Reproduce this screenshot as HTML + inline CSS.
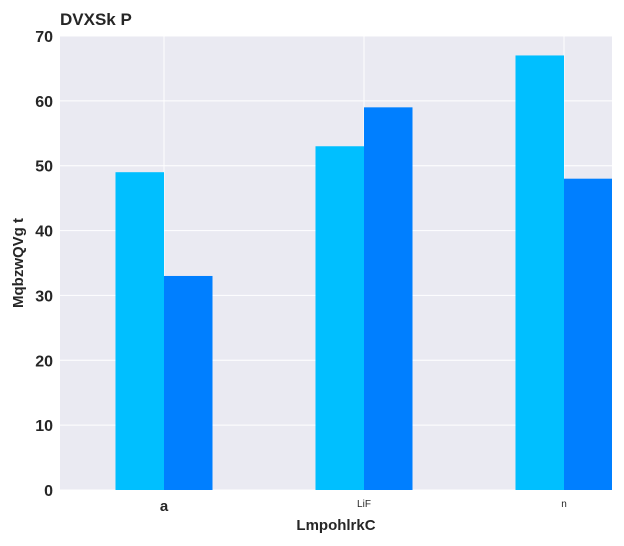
<!DOCTYPE html>
<html><head><meta charset="utf-8"><style>
body{margin:0;background:#fff;}
svg{display:block;font-family:"Liberation Sans",Arial,sans-serif;}
</style></head><body>
<svg id="chart" width="624" height="546" viewBox="0 0 624 546" xmlns="http://www.w3.org/2000/svg">
<text x="60" y="25" font-size="17" font-weight="bold" fill="#262626">DVXSk P</text>
<rect x="60" y="36" width="552" height="454" fill="#eaeaf2"/>
<g id="grid"></g><g id="bars"></g><g id="ticks"></g>
<text x="336" y="530" font-size="15" font-weight="bold" fill="#262626" text-anchor="middle">LmpohlrkC</text>
<text transform="translate(23,263) rotate(-90)" font-size="15" font-weight="bold" fill="#262626" text-anchor="middle">MqbzwQVg t</text>
</svg>
<script>
const categories=["a","LiF","n"];
const series1=[49,53,67];
const series2=[33,59,48];
const yTicks=[0,10,20,30,40,50,60,70];
const tickSizes=[15,10,10];
const tickWeights=["bold","normal","normal"];
const ns="http://www.w3.org/2000/svg";
const L=60,R=612,T=36,B=490,ymax=70;
const y=v=>B-(B-T)*v/ymax;
const xc=i=>164+200*i;
const bw=48.5;
function mk(t,a,p){const e=document.createElementNS(ns,t);for(const k in a)e.setAttribute(k,a[k]);p.appendChild(e);return e;}
const g=document.getElementById('grid'),b=document.getElementById('bars'),tk=document.getElementById('ticks');
yTicks.forEach(v=>{
 const l=mk('line',{x1:L,x2:R,y1:y(v),y2:y(v),stroke:'#fff','stroke-width':1},g);
 
 
 const t=mk('text',{x:53,y:y(v)+6,'font-size':16,'font-weight':'bold',fill:'#262626','text-anchor':'end'},tk);
 t.textContent=v;
 
 
});
categories.forEach((c,i)=>{
 const l=mk('line',{x1:xc(i),x2:xc(i),y1:T,y2:B,stroke:'#fff','stroke-width':1},g);
 
 
 const w1=Math.min(bw,R-(xc(i)-bw));
 const r1=mk('rect',{x:xc(i)-bw,y:y(series1[i]),width:bw,height:B-y(series1[i]),fill:'#00bfff'},b);
 
 
 const w2=Math.max(0,Math.min(bw,R-xc(i)));
 const r2=mk('rect',{x:xc(i),y:y(series2[i]),width:w2,height:B-y(series2[i]),fill:'#007fff'},b);
 
 
 const t=mk('text',{x:xc(i),y:i==0?511:507,'font-size':tickSizes[i],'font-weight':tickWeights[i],fill:'#262626','text-anchor':'middle'},tk);
 t.textContent=c;
 
 
});
</script>
</body></html>
